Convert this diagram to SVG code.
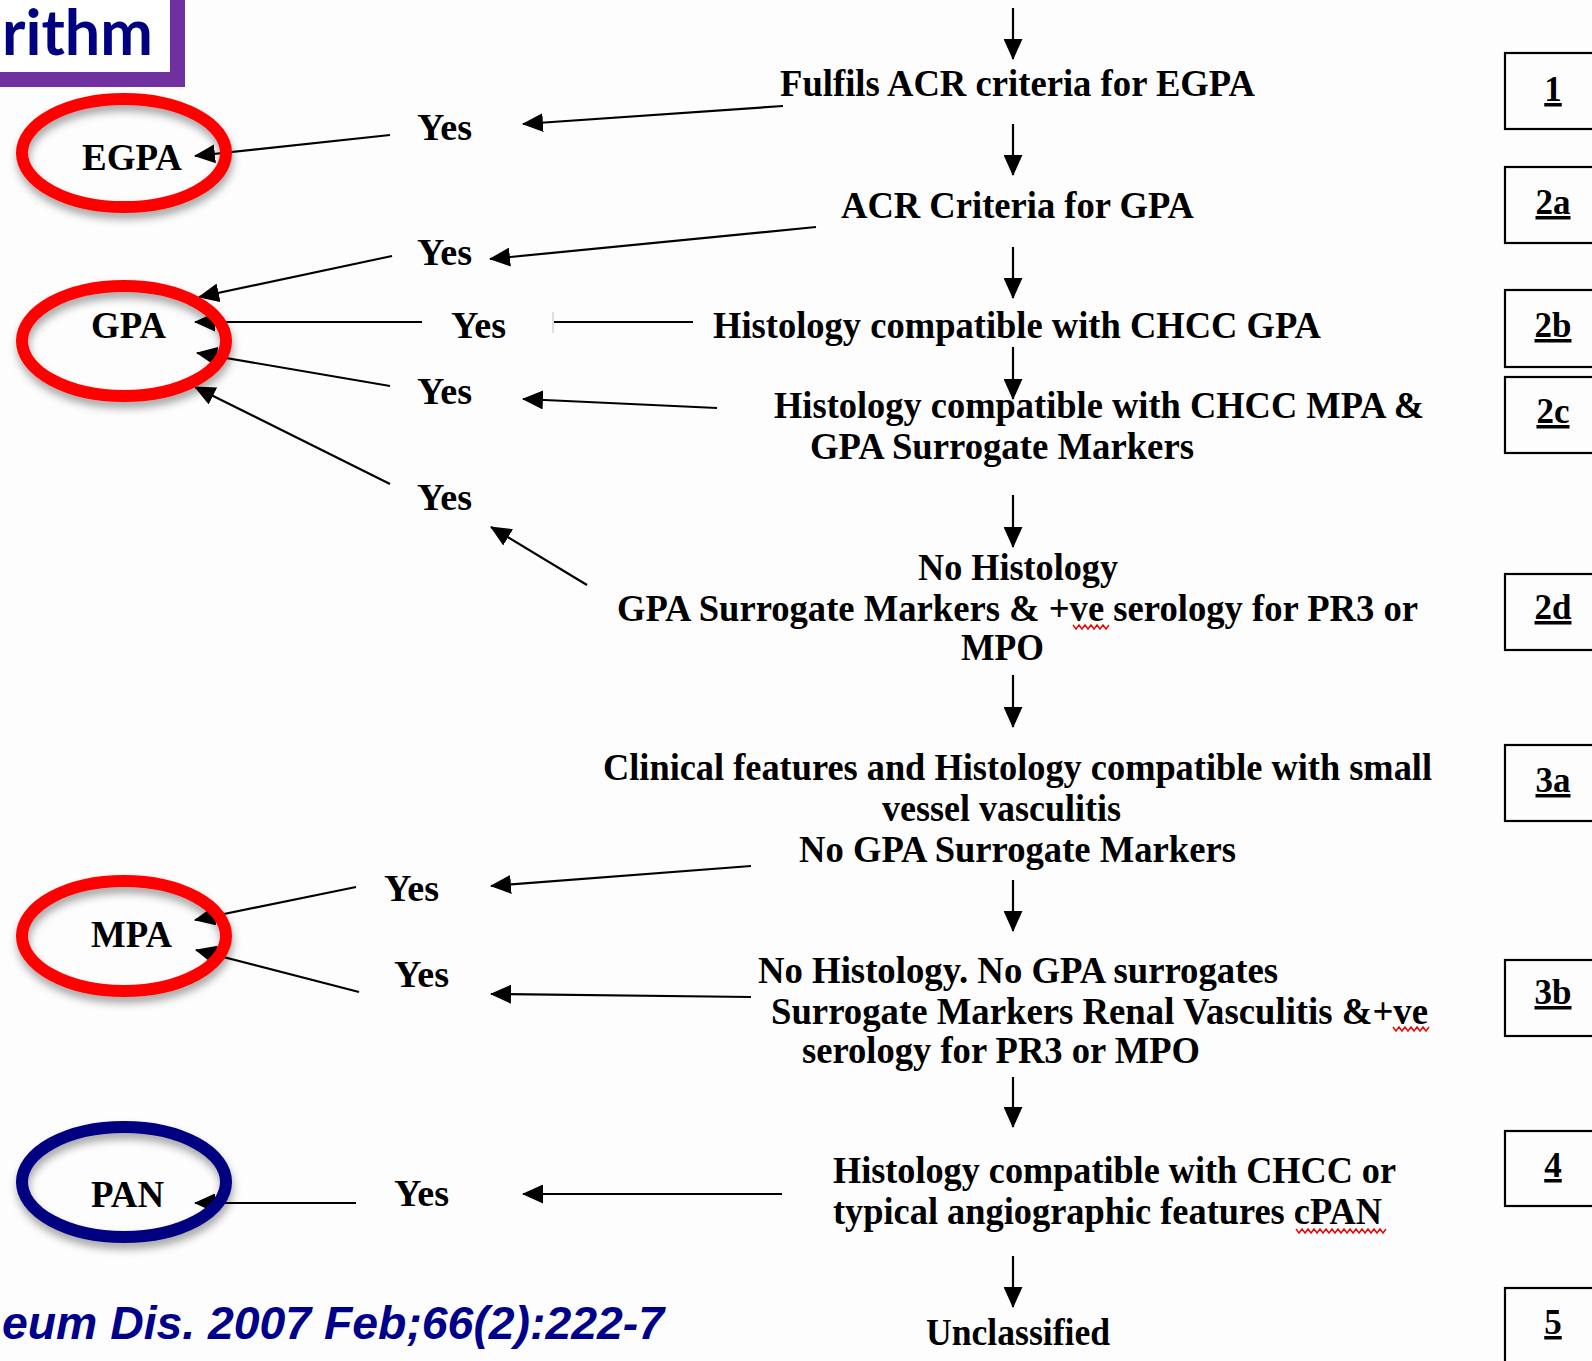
<svg xmlns="http://www.w3.org/2000/svg" width="1592" height="1361" viewBox="0 0 1592 1361">
<style>
.t{font-family:"Liberation Serif","Times New Roman",serif;font-weight:bold;font-size:37px;fill:#000}
.yes{font-family:"Liberation Serif","Times New Roman",serif;font-weight:bold;font-size:37px;fill:#000}
.lbl{font-family:"Liberation Serif","Times New Roman",serif;font-weight:bold;font-size:35px;fill:#000;text-decoration:underline;text-anchor:middle}
.box{fill:none;stroke:#000;stroke-width:2.2}
.ell{fill:none;stroke-width:12}
.c{stroke:#000;stroke-width:2.2;fill:none}
.arr{marker-end:url(#ah)}
.sq{fill:none;stroke:#e00;stroke-width:1.4}
</style>
<defs>
<marker id="ah" markerUnits="userSpaceOnUse" markerWidth="21" markerHeight="19" viewBox="0 0 21 19" refX="20" refY="9.5" orient="auto">
<path d="M0,0 L21,9.5 L0,19 Z" fill="#000"/>
</marker>
<filter id="sh" x="-20%" y="-20%" width="140%" height="150%">
<feDropShadow dx="1" dy="6" stdDeviation="4" flood-color="#000" flood-opacity="0.35"/>
</filter>
</defs>
<rect x="0" y="0" width="1592" height="1361" fill="#fdfdfd"/>

<g id="title">
<rect x="-40" y="-40" width="217.5" height="119.5" fill="#fff" stroke="#7030a0" stroke-width="15"/>
<text x="2" y="55" textLength="151" lengthAdjust="spacingAndGlyphs" font-family="Lato,'Open Sans',sans-serif" font-weight="bold" font-size="64" fill="#000080">rithm</text>
</g>

<g id="citation">
<text x="2" y="1339" textLength="662" lengthAdjust="spacingAndGlyphs" font-family="'Liberation Sans',Arial,sans-serif" font-weight="bold" font-style="italic" font-size="47" fill="#00008b">eum Dis. 2007 Feb;66(2):222-7</text>
</g>

<g id="connectors">
<line class="c arr" x1="1013" y1="8" x2="1013" y2="59"/>
<line class="c arr" x1="1013" y1="124" x2="1013" y2="175"/>
<line class="c arr" x1="1013" y1="247" x2="1013" y2="298"/>
<line class="c arr" x1="1013" y1="347" x2="1013" y2="399"/>
<line class="c arr" x1="1013" y1="495" x2="1013" y2="547"/>
<line class="c arr" x1="1013" y1="675" x2="1013" y2="727"/>
<line class="c arr" x1="1013" y1="880" x2="1013" y2="931"/>
<line class="c arr" x1="1013" y1="1077" x2="1013" y2="1127"/>
<line class="c arr" x1="1013" y1="1256" x2="1013" y2="1307"/>

<line class="c arr" x1="783" y1="106" x2="523" y2="124"/>
<line class="c arr" x1="390" y1="135" x2="195" y2="156"/>
<line class="c arr" x1="816" y1="227" x2="490" y2="259"/>
<line class="c arr" x1="392" y1="256" x2="199" y2="297"/>
<line class="c" x1="693" y1="322" x2="554" y2="322"/>
<line x1="553" y1="312" x2="553" y2="333" stroke="#ccc" stroke-width="1.2"/>
<line class="c arr" x1="422" y1="322" x2="195" y2="322"/>
<line class="c arr" x1="717" y1="408" x2="523" y2="399"/>
<line class="c arr" x1="390" y1="386" x2="197" y2="353"/>
<line class="c arr" x1="587" y1="585" x2="491" y2="527"/>
<line class="c arr" x1="390" y1="484" x2="195" y2="387"/>
<line class="c arr" x1="751" y1="866" x2="491" y2="886"/>
<line class="c arr" x1="356" y1="887" x2="195" y2="920"/>
<line class="c arr" x1="751" y1="997" x2="491" y2="994"/>
<line class="c arr" x1="359" y1="992" x2="196" y2="950"/>
<line class="c arr" x1="782" y1="1194" x2="523" y2="1194"/>
<line class="c arr" x1="356" y1="1203" x2="195" y2="1203"/>
</g>

<g id="n-egpa">
<ellipse class="ell" cx="124" cy="153" rx="102" ry="54" stroke="#ff0000" filter="url(#sh)"/>
<text class="t" x="82" y="170" textLength="100" lengthAdjust="spacingAndGlyphs">EGPA</text>
</g>
<g id="n-gpa">
<ellipse class="ell" cx="124" cy="341" rx="102" ry="55" stroke="#ff0000" filter="url(#sh)"/>
<text class="t" x="91" y="338" textLength="75" lengthAdjust="spacingAndGlyphs">GPA</text>
</g>
<g id="n-mpa">
<ellipse class="ell" cx="124" cy="936" rx="102" ry="55" stroke="#ff0000" filter="url(#sh)"/>
<text class="t" x="91" y="947" textLength="81" lengthAdjust="spacingAndGlyphs">MPA</text>
</g>
<g id="n-pan">
<ellipse class="ell" cx="124" cy="1182" rx="102" ry="55" stroke="#000080" filter="url(#sh)"/>
<text class="t" x="91" y="1207" textLength="73" lengthAdjust="spacingAndGlyphs">PAN</text>
</g>

<g id="yes-labels">
<text class="yes" x="417" y="140" textLength="55" lengthAdjust="spacingAndGlyphs">Yes</text>
<text class="yes" x="417" y="265" textLength="55" lengthAdjust="spacingAndGlyphs">Yes</text>
<text class="yes" x="451" y="338" textLength="55" lengthAdjust="spacingAndGlyphs">Yes</text>
<text class="yes" x="417" y="404" textLength="55" lengthAdjust="spacingAndGlyphs">Yes</text>
<text class="yes" x="417" y="510" textLength="55" lengthAdjust="spacingAndGlyphs">Yes</text>
<text class="yes" x="384" y="901" textLength="55" lengthAdjust="spacingAndGlyphs">Yes</text>
<text class="yes" x="394" y="987" textLength="55" lengthAdjust="spacingAndGlyphs">Yes</text>
<text class="yes" x="394" y="1206" textLength="55" lengthAdjust="spacingAndGlyphs">Yes</text>
</g>

<g id="s1"><text class="t" x="780" y="96" textLength="475" lengthAdjust="spacingAndGlyphs">Fulfils ACR criteria for EGPA</text></g>
<g id="s2a"><text class="t" x="841" y="218" textLength="353" lengthAdjust="spacingAndGlyphs">ACR Criteria for GPA</text></g>
<g id="s2b"><text class="t" x="713" y="338" textLength="608" lengthAdjust="spacingAndGlyphs">Histology compatible with CHCC GPA</text></g>
<g id="s2c">
<text class="t" x="774" y="418" textLength="650" lengthAdjust="spacingAndGlyphs">Histology compatible with CHCC MPA &amp;</text>
<text class="t" x="810" y="459" textLength="384" lengthAdjust="spacingAndGlyphs">GPA Surrogate Markers</text>
</g>
<g id="s2d">
<text class="t" x="918" y="580" textLength="200" lengthAdjust="spacingAndGlyphs">No Histology</text>
<text class="t" x="617" y="621" textLength="801" lengthAdjust="spacingAndGlyphs">GPA Surrogate Markers &amp; +ve serology for PR3 or</text>
<text class="t" x="961" y="660" textLength="83" lengthAdjust="spacingAndGlyphs">MPO</text>
<polyline class="sq" points="1073,625 1076,629 1079,625 1082,629 1085,625 1088,629 1091,625 1094,629 1097,625 1100,629 1103,625 1106,629 1109,625"/>
</g>
<g id="s3a">
<text class="t" x="603" y="780" textLength="829" lengthAdjust="spacingAndGlyphs">Clinical features and Histology compatible with small</text>
<text class="t" x="882" y="821" textLength="239" lengthAdjust="spacingAndGlyphs">vessel vasculitis</text>
<text class="t" x="799" y="862" textLength="437" lengthAdjust="spacingAndGlyphs">No GPA Surrogate Markers</text>
</g>
<g id="s3b">
<text class="t" x="758" y="983" textLength="520" lengthAdjust="spacingAndGlyphs">No Histology. No GPA surrogates</text>
<text class="t" x="771" y="1024" textLength="657" lengthAdjust="spacingAndGlyphs">Surrogate Markers Renal Vasculitis &amp;+ve</text>
<text class="t" x="802" y="1063" textLength="398" lengthAdjust="spacingAndGlyphs">serology for PR3 or MPO</text>
<polyline class="sq" points="1393,1027 1396,1031 1399,1027 1402,1031 1405,1027 1408,1031 1411,1027 1414,1031 1417,1027 1420,1031 1423,1027 1426,1031 1429,1027"/>
</g>
<g id="s4">
<text class="t" x="833" y="1183" textLength="563" lengthAdjust="spacingAndGlyphs">Histology compatible with CHCC or</text>
<text class="t" x="833" y="1224" textLength="549" lengthAdjust="spacingAndGlyphs">typical angiographic features cPAN</text>
<polyline class="sq" points="1296,1229 1299,1233 1302,1229 1305,1233 1308,1229 1311,1233 1314,1229 1317,1233 1320,1229 1323,1233 1326,1229 1329,1233 1332,1229 1335,1233 1338,1229 1341,1233 1344,1229 1347,1233 1350,1229 1353,1233 1356,1229 1359,1233 1362,1229 1365,1233 1368,1229 1371,1233 1374,1229 1377,1233 1380,1229 1383,1233 1386,1229"/>
</g>
<g id="s5"><text class="t" x="926" y="1345" textLength="184" lengthAdjust="spacingAndGlyphs">Unclassified</text></g>

<g id="step-labels">
<g id="b1"><rect class="box" x="1505" y="53" width="200" height="76"/><text class="lbl" x="1553" y="101">1</text></g>
<g id="b2a"><rect class="box" x="1505" y="167" width="200" height="76"/><text class="lbl" x="1553" y="214">2a</text></g>
<g id="b2b"><rect class="box" x="1505" y="290" width="200" height="77"/><text class="lbl" x="1553" y="337">2b</text></g>
<g id="b2c"><rect class="box" x="1505" y="377" width="200" height="76"/><text class="lbl" x="1553" y="423">2c</text></g>
<g id="b2d"><rect class="box" x="1505" y="574" width="200" height="76"/><text class="lbl" x="1553" y="619">2d</text></g>
<g id="b3a"><rect class="box" x="1505" y="745" width="200" height="76"/><text class="lbl" x="1553" y="792">3a</text></g>
<g id="b3b"><rect class="box" x="1505" y="960" width="200" height="76"/><text class="lbl" x="1553" y="1004">3b</text></g>
<g id="b4"><rect class="box" x="1505" y="1131" width="200" height="75"/><text class="lbl" x="1553" y="1177">4</text></g>
<g id="b5"><rect class="box" x="1505" y="1288" width="200" height="76"/><text class="lbl" x="1553" y="1334">5</text></g>
</g>
</svg>
